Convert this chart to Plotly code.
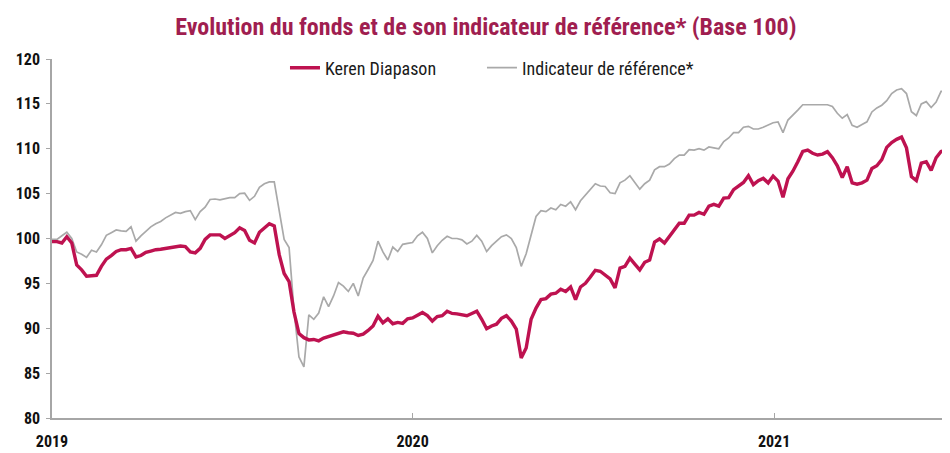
import pandas as pd
import plotly.graph_objects as go

# 5-day sampling grid, starting 2019-01-01
dates = pd.date_range("2019-01-01", periods=182, freq="5D")

keren = [
    99.65, 99.65, 99.5, 100.2, 99.5, 97.05, 96.5, 95.8, 95.85, 95.9,
    96.9, 97.7, 98.1, 98.55, 98.75, 98.75, 98.9, 97.95, 98.1, 98.45,
    98.6, 98.75, 98.8, 98.9, 98.95, 99.05, 99.16, 99.1, 98.5, 98.4,
    98.9, 99.9, 100.4, 100.4, 100.4, 100.0, 100.3, 100.65, 101.2, 100.9,
    99.8, 99.5, 100.7, 101.2, 101.65, 101.4, 98.2, 96.1, 95.2, 91.8,
    89.4, 88.95, 88.7, 88.75, 88.6, 88.9, 89.1, 89.25, 89.4, 89.6,
    89.5, 89.45, 89.2, 89.35, 89.75, 90.25, 91.35, 90.6, 91.05, 90.5,
    90.65, 90.55, 91.05, 91.15, 91.45, 91.75, 91.4, 90.8, 91.3, 91.4,
    91.9, 91.65, 91.6, 91.5, 91.4, 91.65, 91.9, 91.0, 89.95, 90.25,
    90.45, 91.1, 91.4, 90.8, 89.9, 86.7, 87.8, 91.0, 92.25, 93.2,
    93.3, 93.8, 93.9, 94.35, 94.1, 94.6, 93.2, 94.6, 95.0, 95.7,
    96.45, 96.35, 95.9, 95.5, 94.5, 96.7, 96.9, 97.8, 97.15, 96.5,
    97.35, 97.6, 99.6, 99.95, 99.5, 100.2, 101.0, 101.7, 101.7, 102.6,
    102.6, 102.9, 102.7, 103.6, 103.8, 103.6, 104.5, 104.55, 105.45, 105.9,
    106.25, 107.0, 106.0, 106.45, 106.7, 106.2, 106.95, 106.4, 104.6, 106.65,
    107.5, 108.56, 109.7, 109.85, 109.5, 109.3, 109.4, 109.67, 109.0, 108.1,
    106.8, 108.0, 106.2, 106.05, 106.2, 106.5, 107.8, 108.1, 108.8, 110.15,
    110.7, 111.05, 111.3, 110.1, 106.9, 106.45, 108.4, 108.56, 107.6, 109.0,
    109.7, 109.85,
]

indicateur = [
    99.9, 99.9, 100.3, 100.7, 100.0, 98.5, 98.25, 97.9, 98.7, 98.5,
    99.3, 100.35, 100.65, 100.95, 100.85, 100.8, 101.3, 99.7, 100.3, 100.85,
    101.3, 101.65, 101.9, 102.3, 102.6, 102.9, 102.8, 103.0, 103.1, 102.1,
    103.0, 103.5, 104.35, 104.4, 104.3, 104.45, 104.55, 104.55, 105.0, 105.05,
    104.25, 104.7, 105.7, 106.1, 106.3, 106.3, 103.0, 99.9, 99.0, 92.0,
    86.8, 85.7, 91.5, 91.0, 91.7, 93.5, 92.4, 93.6, 95.1, 94.7,
    94.1, 95.0, 93.6, 95.6, 96.55, 97.55, 99.7, 98.5, 97.6, 99.05,
    98.55, 99.35, 99.45, 99.55, 100.3, 100.7, 100.0, 98.4, 99.2, 99.8,
    100.25, 100.0, 100.0, 99.85, 99.4, 99.7, 100.35, 99.7, 98.55, 99.2,
    99.7, 100.2, 100.4, 100.0, 99.0, 96.9, 98.3, 100.5, 102.45, 103.1,
    103.0, 103.4, 103.2, 103.8, 103.6, 104.1, 103.2, 104.2, 104.8, 105.4,
    106.1, 105.85, 105.8, 105.1, 105.0, 106.2, 106.5, 107.0, 106.25, 105.5,
    106.1, 106.5, 107.65, 108.0, 108.0, 108.3, 108.9, 109.3, 109.3, 109.9,
    109.85, 110.0, 109.85, 110.2, 110.1, 110.0, 110.8, 111.2, 111.8, 111.8,
    112.4, 112.5, 112.2, 112.2, 112.4, 112.65, 112.9, 113.0, 111.8, 113.2,
    113.7, 114.3, 114.9, 114.9, 114.9, 114.9, 114.9, 114.9, 114.7, 113.95,
    113.4, 113.8, 112.6, 112.4, 112.7, 113.0, 114.1, 114.55, 114.85, 115.35,
    116.15, 116.55, 116.7, 116.15, 114.13, 113.7, 115.0, 115.25, 114.6, 115.2,
    116.4, 116.4,
]

series_names = ["Keren Diapason", "Indicateur de référence*"]
title_text = "Evolution du fonds et de son indicateur de référence* (Base 100)"
x_tick_vals = ["2019-01-01", "2020-01-01", "2021-01-01"]
x_tick_text = ["2019", "2020", "2021"]
y_ticks = [80, 85, 90, 95, 100, 105, 110, 115, 120]

RED = "#BE1250"
GRAY = "#A9A9A9"
FONT = "Liberation Sans Narrow, Arial Narrow, Roboto Condensed, Liberation Sans, Arial, sans-serif"

fig = go.Figure()
fig.add_trace(go.Scatter(
    x=dates, y=indicateur, mode="lines", name=series_names[1],
    line=dict(color=GRAY, width=1.7), legend="legend2",
))
fig.add_trace(go.Scatter(
    x=dates, y=keren, mode="lines", name=series_names[0],
    line=dict(color=RED, width=3.4), legend="legend",
))

legend_common = dict(
    orientation="h", yanchor="middle", y=0.975, xanchor="left",
    font=dict(family=FONT, size=18, color="#1a1a1a"),
    bgcolor="rgba(0,0,0,0)", itemwidth=30,
)

fig.update_layout(
    width=950, height=453,
    paper_bgcolor="white", plot_bgcolor="white",
    margin=dict(l=44, r=13, t=51, b=43, autoexpand=False),
    font=dict(family=FONT, color="#1a1a1a"),
    title=dict(
        text="<b>" + title_text + "</b>",
        font=dict(family=FONT, size=24, color="#A01E50"),
        x=0.503, xanchor="center", y=0.958, yanchor="middle",
    ),
    showlegend=True,
    legend=dict(x=0.2609, **legend_common),
    legend2=dict(x=0.4815, **legend_common),
    xaxis=dict(
        type="date",
        range=["2019-01-01", "2021-06-23"],
        tickvals=x_tick_vals, ticktext=x_tick_text,
        showgrid=False, zeroline=False,
        showline=True, linecolor="#A6A6A6", linewidth=1.5,
        ticks="inside", ticklen=5, tickcolor="#A6A6A6",
        ticklabelstandoff=8,
        tickfont=dict(family=FONT, size=16, color="#111111", weight="bold"),
    ),
    yaxis=dict(
        range=[80, 120], tickvals=y_ticks,
        showgrid=False, zeroline=False,
        showline=True, linecolor="#A6A6A6", linewidth=1.5,
        ticks="outside", ticklen=4, tickcolor="#A6A6A6",
        ticklabelstandoff=3,
        tickfont=dict(family=FONT, size=16, color="#111111", weight="bold"),
    ),
)

fig.write_html("out.html")
